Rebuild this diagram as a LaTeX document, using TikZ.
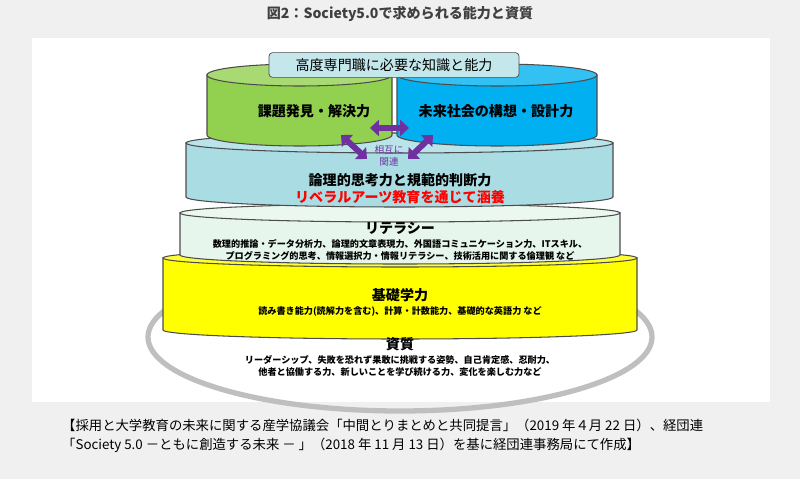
\documentclass[tikz,border=0pt]{standalone}
\usepackage{fontspec}
\usepackage{tikz}
\usetikzlibrary{arrows.meta}
\setmainfont{Noto Sans CJK JP}
\definecolor{greencyl}{HTML}{92D050}
\definecolor{bluecyl}{HTML}{00B0F0}
\definecolor{logiccyl}{HTML}{A9DDE3}
\definecolor{litcyl}{HTML}{E6F6EC}
\definecolor{basecyl}{HTML}{FFFF00}
\definecolor{relpurple}{HTML}{7030A0}
\tikzstyle{Head}=[font=\fontsize{8}{9}\selectfont\bfseries]
\tikzstyle{Sub}=[font=\fontsize{5.2}{6.6}\selectfont\bfseries, align=center]
\tikzstyle{Rel}=[line width=3.4pt, relpurple, {Triangle[width=9pt,length=5pt]}-{Triangle[width=9pt,length=5pt]}]
\tikzstyle{Src}=[anchor=west, font=\fontsize{7.6}{9}\selectfont]
% cylinder: fill, left x, right x, top y, bottom y, y radius
\newcommand{\cyl}[6]{%
  \pgfmathsetmacro{\rx}{(#3-#2)/2}
  \pgfmathsetmacro{\cx}{(#3+#2)/2}
  \draw[fill=#1, draw=black!70, line width=0.6pt] (#2,#4) -- (#2,#5)
    arc[start angle=180, end angle=360, x radius=\rx, y radius=#6] -- (#3,#4) -- cycle;
  \draw[fill=#1!80!white, draw=black!70, line width=0.6pt] (\cx,#4) ellipse[x radius=\rx, y radius=#6];
}
\begin{document}
\begin{tikzpicture}[x=0.02cm, y=0.02cm]
    \useasboundingbox (0,0) rectangle (800,-479);
    \fill[black!6] (0,0) rectangle (800,-479);
    \fill[white] (32,-38) rectangle (770,-402);
    \path (400,-14) node[font=\fontsize{8}{9}\selectfont\bfseries, text=black!75] (title) {図2：Society5.0で求められる能力と資質};

    \draw[black!25, line width=3pt] (400,-337) ellipse[x radius=252, y radius=74];

    \cyl{basecyl}{163}{637}{-258}{-330}{9}
    \cyl{litcyl}{180}{620}{-213}{-255}{9}
    \cyl{logiccyl}{186}{613}{-143}{-197}{10}
    \cyl{greencyl}{207}{392}{-75}{-135}{11}
    \cyl{bluecyl}{397}{597}{-75}{-135}{11}

    \path
    (394,-65) node[draw=black!70, fill=logiccyl!70!white, rounded corners=2pt, minimum width=250*0.02cm, minimum height=24*0.02cm, font=\fontsize{8}{9}\selectfont] (expert) {高度専門職に必要な知識と能力}
    (314,-111) node[Head] (problem) {課題発見・解決力}
    (496,-111) node[Head] (future) {未来社会の構想・設計力}
    (400,-180) node[Head] (logic) {論理的思考力と規範的判断力}
    (400,-197) node[Head, text=red] (liberal) {リベラルアーツ教育を通じて涵養}
    (400,-228) node[Head] (literacy) {リテラシー}
    (400,-250) node[Sub] (litdesc) {数理的推論・データ分析力、論理的文章表現力、外国語コミュニケーション力、ITスキル、\\プログラミング的思考、情報選択力・情報リテラシー、技術活用に関する倫理観\ など}
    (400,-295) node[Head] (basic) {基礎学力}
    (400,-311) node[Sub] (basicdesc) {読み書き能力(読解力を含む)、計算・計数能力、基礎的な英語力\ など}
    (400,-344) node[Head] (quality) {資質}
    (400,-366) node[Sub] (qualdesc) {リーダーシップ、失敗を恐れず果敢に挑戦する姿勢、自己肯定感、忍耐力、\\他者と協働する力、新しいことを学び続ける力、変化を楽しむ力など}
    (389,-156) node[font=\fontsize{5.5}{6.5}\selectfont, text=relpurple, align=center] (mutual) {相互に\\関連};

    \coordinate (hl) at (370,-128);
    \coordinate (hr) at (409,-128);
    \coordinate (ll) at (341,-135);
    \coordinate (lr) at (367,-159);
    \coordinate (rl) at (408,-159);
    \coordinate (rr) at (433,-135);
    \draw[Rel] (hl) -- (hr);
    \draw[Rel] (ll) -- (lr);
    \draw[Rel] (rl) -- (rr);

    \path (56,-425) node[Src] (src1) {【採用と大学教育の未来に関する産学協議会「中間とりまとめと共同提言」（2019 年４月 22 日）、経団連}
    (56,-445) node[Src] (src2) {「Society 5.0 －ともに創造する未来 － 」（2018 年 11 月 13 日）を基に経団連事務局にて作成】};
\end{tikzpicture}
\end{document}
